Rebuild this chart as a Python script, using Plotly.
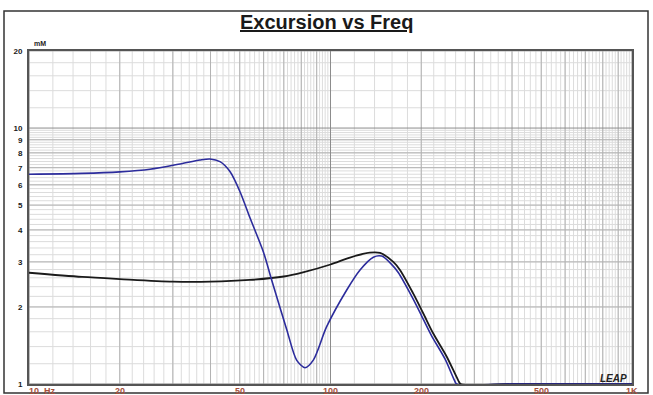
import numpy as np
import plotly.graph_objects as go

# ---- data ----
black_freq = [10, 15, 20, 30, 40, 54, 70, 81, 100, 116, 135, 146, 161.5, 170, 188, 203, 219, 243, 265, 270, 400, 1000]
black_mm = [2.72, 2.62, 2.57, 2.51, 2.51, 2.55, 2.63, 2.73, 2.93, 3.12, 3.26, 3.25, 3.0, 2.79, 2.26, 1.89, 1.578, 1.278, 1.036, 1.0, 1.0, 1.0]

blue_freq = [10, 15, 20, 25.2, 31.7, 36.9, 39.8, 43, 46.4, 50.1, 54.1, 59.9, 63.8, 71.6, 77.2, 82.3,
             87.7, 97.1, 113.2, 125.3, 138.7, 147.9, 160, 168, 186, 200, 216, 240, 258, 262, 400, 1000]
blue_mm = [6.6, 6.65, 6.74, 6.9, 7.24, 7.5, 7.57, 7.39, 6.76, 5.64, 4.45, 3.28, 2.55, 1.63, 1.24, 1.158,
           1.24, 1.675, 2.33, 2.79, 3.13, 3.16, 2.92, 2.72, 2.2, 1.86, 1.55, 1.25, 1.03, 1.0, 1.0, 1.0]

y_tick_vals = [1, 2, 3, 4, 5, 6, 7, 8, 9, 10, 20]
y_tick_text = ["1", "2", "3", "4", "5", "6", "7", "8", "9", "10", "20"]
x_tick_vals = [10, 20, 50, 100, 200, 500, 1000]
x_tick_text = ["10  Hz", "20", "50", "100", "200", "500", "1K"]

# grid positions
x_light = [float(v) for v in np.arange(10, 100, 2)] + [float(v) for v in np.arange(100, 1000, 20)]
x_mid = [20, 30, 40, 50, 60, 70, 80, 90, 200, 300, 400, 500, 600, 700, 800, 900]
x_dark = [10, 100, 1000]
y_light = [round(float(v), 2) for v in np.arange(1, 10, 0.2)] + [12, 14, 16, 18]
y_mid = [2, 3, 4, 5, 6, 7, 8, 9, 20]
y_dark = [1, 10]

XMIN, XMAX, YMIN, YMAX = 10, 1000, 1, 20


def vlines(xs):
    X, Y = [], []
    for x in xs:
        X += [x, x, None]
        Y += [YMIN, YMAX, None]
    return X, Y


def hlines(ys):
    X, Y = [], []
    for y in ys:
        X += [XMIN, XMAX, None]
        Y += [y, y, None]
    return X, Y


fig = go.Figure()

for xs, ys, col in [(x_light, y_light, "#dcdcdc"), (x_mid, y_mid, "#b2b2b2"), (x_dark, y_dark, "#8c8c8c")]:
    vx, vy = vlines(xs)
    hx, hy = hlines(ys)
    fig.add_trace(go.Scatter(x=vx + hx, y=vy + hy, mode="lines",
                             line=dict(color=col, width=1), hoverinfo="skip", showlegend=False))

fig.add_trace(go.Scatter(x=black_freq, y=black_mm, mode="lines",
                         line=dict(color="#1a1a1a", width=1.8, shape="spline", smoothing=0.8),
                         showlegend=False, cliponaxis=False))
fig.add_trace(go.Scatter(x=blue_freq, y=blue_mm, mode="lines",
                         line=dict(color="#2c2c9c", width=1.6, shape="spline", smoothing=0.8),
                         showlegend=False, cliponaxis=False))

L, R, T, B = 29, 632, 51, 384
W, H = 653, 395
pw, ph = R - L, B - T


def px(x):
    return (x - L) / pw


def py(y):
    return (B - y) / ph


annotations = []
for v, t in zip(x_tick_vals, x_tick_text):
    annotations.append(dict(x=np.log10(v), y=0, xref="x", yref="paper", text="<b>" + t + "</b>",
                            showarrow=False, xanchor="left" if v == 10 else "center", yanchor="top",
                            yshift=0, xshift=-2 if v == 10 else 0,
                            font=dict(family="Liberation Sans, Arial", size=9, color="#a5503c")))
annotations.append(dict(x=px(326), y=py(22), xref="paper", yref="paper",
                        text="<b><u>Excursion vs Freq</u></b>", showarrow=False, xanchor="center", yanchor="middle",
                        font=dict(family="Liberation Sans, Arial", size=20, color="#1a1a1a")))
annotations.append(dict(x=px(32), y=py(44), xref="paper", yref="paper", text="<b>mM</b>", showarrow=False,
                        xanchor="left", yanchor="middle", font=dict(family="Liberation Sans, Arial", size=7, color="#222")))
annotations.append(dict(x=px(629), y=py(378), xref="paper", yref="paper", text="<b><i>LEAP</i></b>", showarrow=False,
                        xanchor="right", yanchor="middle", font=dict(family="Liberation Sans, Arial", size=10, color="#222")))

fig.update_layout(
    width=W, height=H,
    margin=dict(l=L, r=W - R, t=T, b=H - B, pad=0, autoexpand=False),
    paper_bgcolor="white", plot_bgcolor="white",
    annotations=annotations,
    shapes=[dict(type="rect", xref="paper", yref="paper", x0=px(4), x1=px(648), y0=py(393), y1=py(11),
                 line=dict(color="#333", width=1.5), layer="above")],
    xaxis=dict(type="log", range=[np.log10(XMIN), np.log10(XMAX)], showgrid=False, zeroline=False,
               automargin=False, layer="below traces",
               showline=True, mirror=True, linecolor="#555", linewidth=2, showticklabels=False, ticks=""),
    yaxis=dict(type="log", range=[np.log10(YMIN), np.log10(YMAX)], showgrid=False, zeroline=False,
               automargin=False, layer="below traces",
               showline=True, mirror=True, linecolor="#555", linewidth=2, tickvals=y_tick_vals,
               ticktext=["<b>" + t + "</b>" for t in y_tick_text], ticks="", ticklabelstandoff=3,
               tickfont=dict(family="Liberation Sans, Arial", size=8, color="#1a1a1a")),
)

fig.write_html("out.html")
